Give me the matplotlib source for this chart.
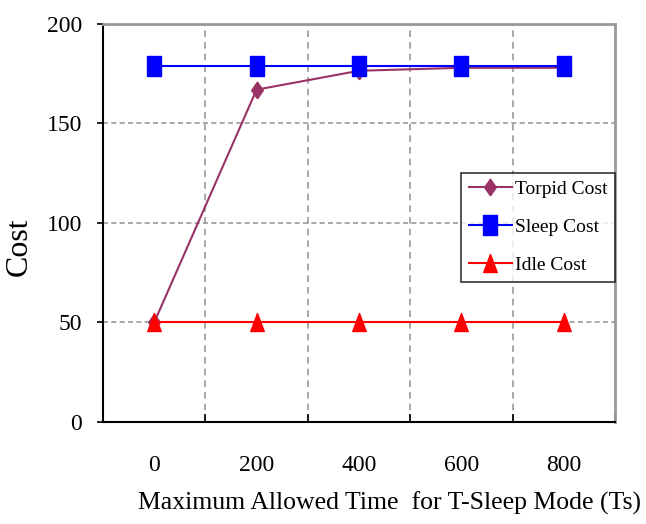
import matplotlib
matplotlib.use('Agg')
import matplotlib.pyplot as plt
import numpy as np

# data
times = [0, 200, 400, 600, 800]
torpid_cost = [50, 167, 176.5, 178, 178]
sleep_cost = [179, 179, 179, 179, 179]
idle_cost = [50, 50, 50, 50, 50]

plt.rcParams['font.family'] = 'Liberation Serif'

fig = plt.figure(figsize=(6.46, 5.24), dpi=100)
ax = fig.add_axes([0.1594, 0.1947, 0.7926, 0.7595])

# tall markers (the original picture is stretched vertically)
sq = [(-0.7, -1), (0.7, -1), (0.7, 1), (-0.7, 1), (-0.7, -1)]
dia = [(0, -1), (0.7, 0), (0, 1), (-0.7, 0), (0, -1)]
tri = [(0, 1), (0.75, -1), (-0.75, -1), (0, 1)]

ax.plot(times, idle_cost, color='#FF0000', lw=1.5, marker=tri, ms=13,
        label='Idle Cost', zorder=3.6)
ax.plot(times, sleep_cost, color='#0000FF', lw=1.5, marker=sq, ms=14,
        label='Sleep Cost', zorder=4)
ax.plot(times, torpid_cost, color='#993366', lw=1.5, marker=dia, ms=12,
        label='Torpid Cost', zorder=3.5)

ax.set_xlim(-100, 900)
ax.set_ylim(0, 200)

# category-style axis: labels centred, ticks/grid between
ax.set_xticks(times)
ax.set_xticks([100, 300, 500, 700, 900], minor=True)
ax.tick_params(axis='x', which='major', length=0, pad=24, labelsize=17)
ax.tick_params(axis='x', which='minor', direction='in', length=6, width=1.2, color='black')
ax.set_yticks([0, 50, 100, 150, 200])
ax.tick_params(axis='y', length=4, width=1.2, pad=11, labelsize=17)

for x in [100, 300, 500, 700]:
    ax.axvline(x, color='#999999', ls=(0, (4, 3)), lw=1.2, zorder=1)
for y in [50, 100, 150]:
    ax.axhline(y, color='#999999', ls=(0, (3, 2)), lw=1.2, zorder=1)

ax.spines['left'].set_linewidth(1.5)
ax.spines['bottom'].set_linewidth(1.5)
ax.spines['top'].set_color('#999999')
ax.spines['right'].set_color('#999999')
ax.spines['top'].set_linewidth(2)
ax.spines['right'].set_linewidth(2)

ax.set_ylabel('Cost', fontsize=23)
ax.yaxis.set_label_coords(-0.135, 0.44)
ax.set_xlabel('Maximum Allowed Time  for T-Sleep Mode (Ts)', fontsize=18.5)
ax.xaxis.set_label_coords(0.5605, -0.176)

handles, labels = ax.get_legend_handles_labels()
order = [2, 1, 0]
leg = ax.legend([handles[i] for i in order], [labels[i] for i in order],
                loc='upper right', bbox_to_anchor=(1.0, 0.626), fontsize=14,
                frameon=True, fancybox=False, edgecolor='black',
                handlelength=2.2, handletextpad=0.15, borderpad=0.4,
                labelspacing=1.05, borderaxespad=0)
leg.get_frame().set_linewidth(1.2)

plt.savefig('out.png', dpi=100)
